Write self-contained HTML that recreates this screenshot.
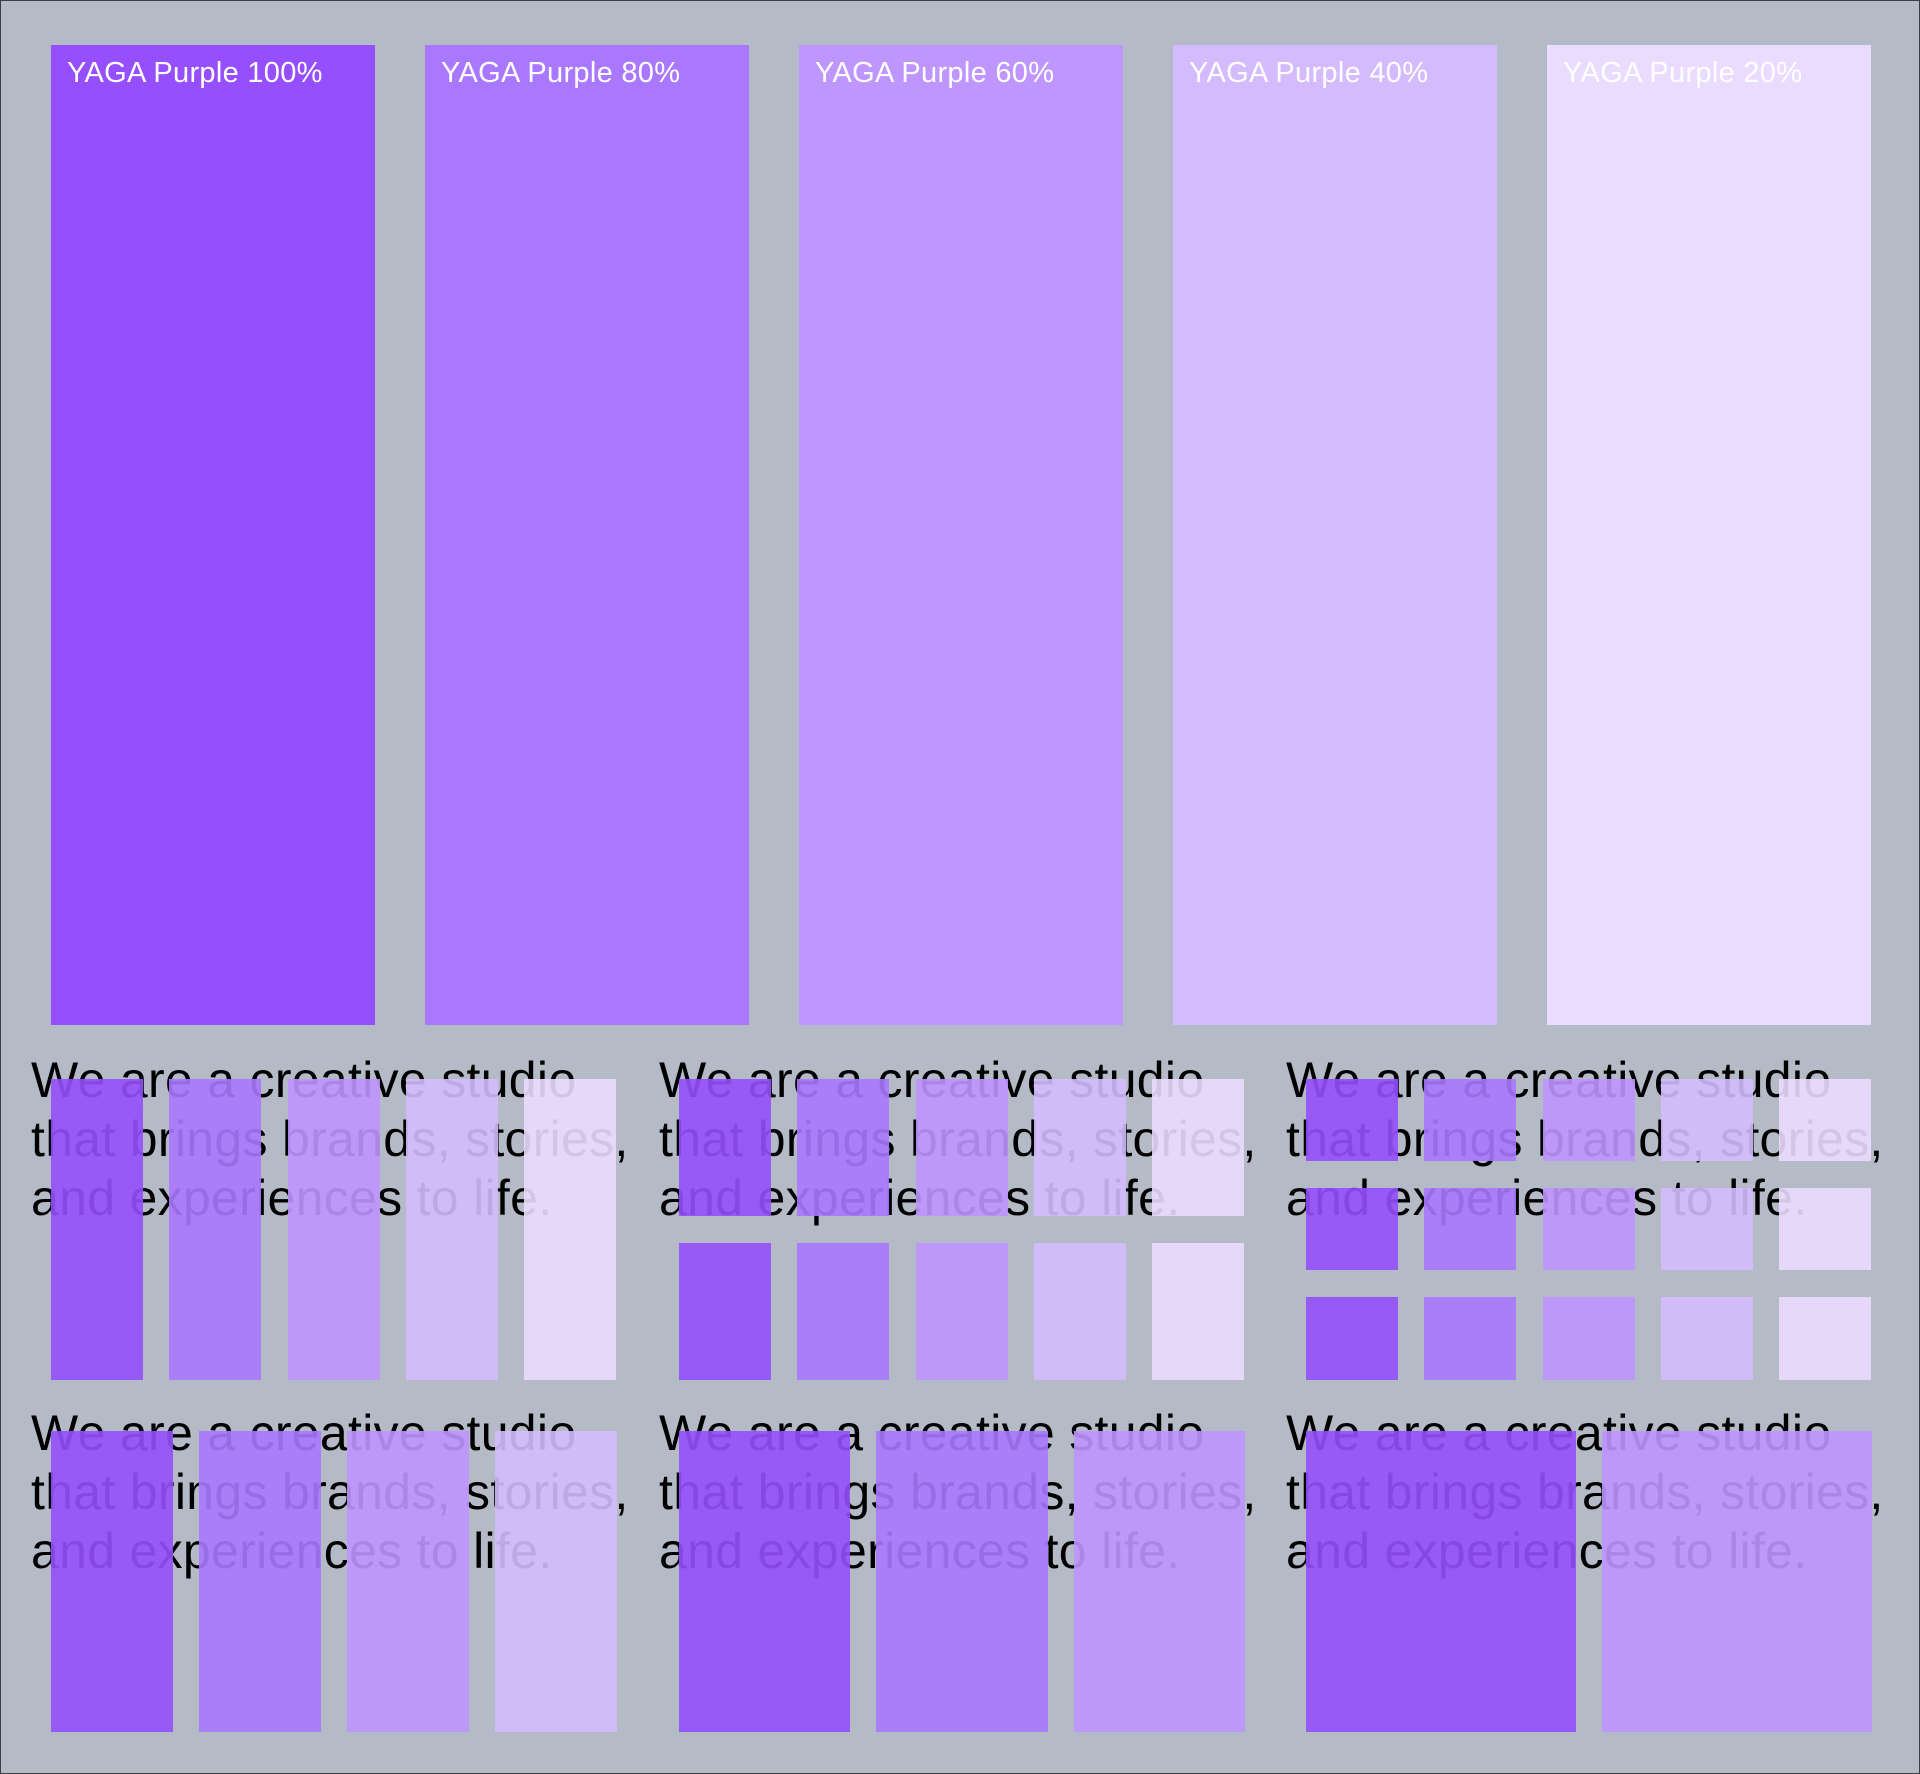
<!DOCTYPE html>
<html><head><meta charset="utf-8"><style>
html,body{margin:0;padding:0}
body{width:1920px;height:1774px;background:#b4bbc6;position:relative;overflow:hidden;font-family:"Liberation Sans",sans-serif;box-sizing:border-box;border:1px solid #3a3d44}
.top{position:absolute;top:44px;height:980px;width:324px}
.lbl{position:absolute;left:16px;top:12px;color:#fff;font-size:29px;letter-spacing:0.3px;white-space:nowrap}
.txt{position:absolute;font-size:50px;line-height:59px;letter-spacing:0.3px;white-space:pre;color:#000}
.s{position:absolute;opacity:0.9}
</style></head><body>
<div class="top" style="left:50px;background:#954ffe"><div class="lbl">YAGA Purple 100%</div></div>
<div class="top" style="left:424px;background:#aa78fe"><div class="lbl">YAGA Purple 80%</div></div>
<div class="top" style="left:798px;background:#bf95fe"><div class="lbl">YAGA Purple 60%</div></div>
<div class="top" style="left:1172px;background:#d4bbfe"><div class="lbl">YAGA Purple 40%</div></div>
<div class="top" style="left:1546px;background:#eadcfe"><div class="lbl">YAGA Purple 20%</div></div>
<div id="grid"></div>
<script>
const cols=['#954ffe','#aa78fe','#bf95fe','#d4bbfe','#eadcfe'];
const txt="We are a creative studio\nthat brings brands, stories,\nand experiences to life.";
const g=document.getElementById('grid');
function text(x,y){const d=document.createElement('div');d.className='txt';d.style.left=x+'px';d.style.top=y+'px';d.textContent=txt;


g.appendChild(d);}
function box(x,y,w,h,c){const d=document.createElement('div');d.className='s';d.style.cssText+=`left:${x}px;top:${y}px;width:${w}px;height:${h}px;background:${c}`;


g.appendChild(d);}
const PX=[50,678,1305];
PX.forEach((px,pi)=>{text(px-20,1050);
 const rows=[[ [1078,1379] ],[[1078,1215],[1242,1379]],[[1078,1160],[1187,1269],[1296,1379]]][pi];
 rows.forEach(r=>{for(let i=0;i<5;i++)box(px+i*118.3,r[0],92,r[1]-r[0],cols[i]);});
});
const nb=[4,3,2];
PX.forEach((px,pi)=>{text(px-20,1403);
 const n=nb[pi],gap=26,w=(566-gap*(n-1))/n;
 const cc=n==4?[0,1,2,3]:n==3?[0,1,2]:[0,2];
 for(let i=0;i<n;i++)box(px+i*(w+gap),1430,w,301,cols[cc[i]]);
});
</script>
</body></html>
